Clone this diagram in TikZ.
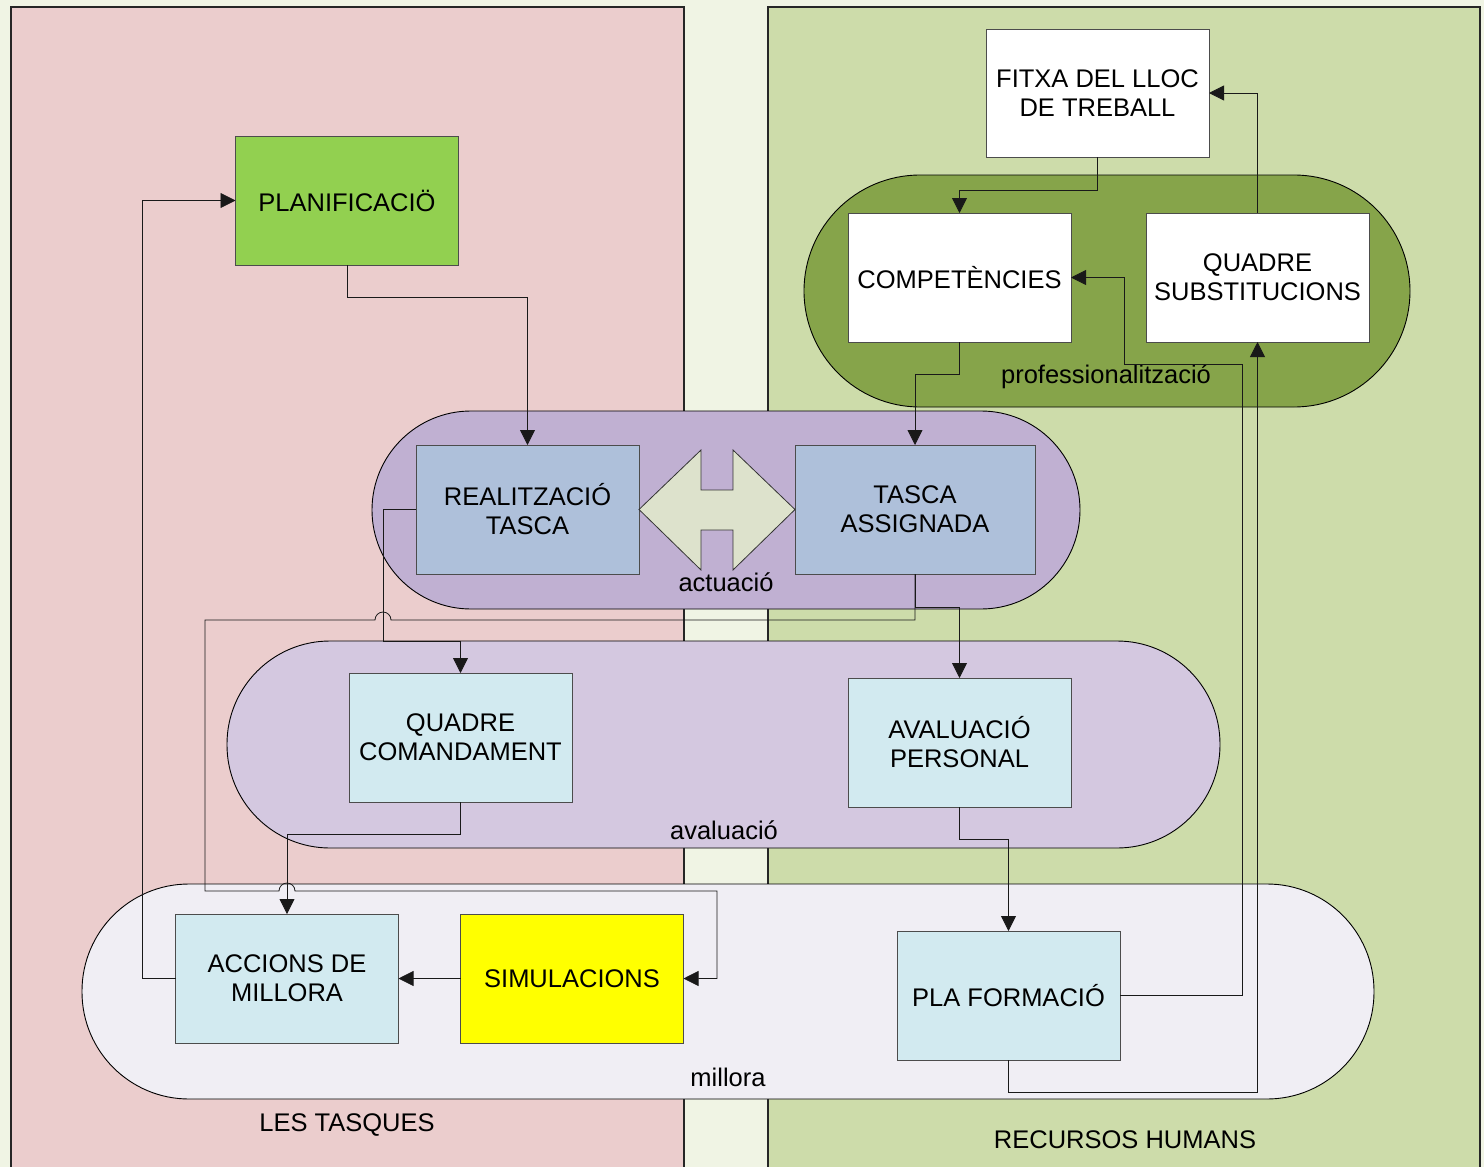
\documentclass[tikz,border=0pt]{standalone}
\usepackage{fontspec}
\setmainfont{Liberation Sans}
\usetikzlibrary{arrows.meta}

\definecolor{bgcream}{RGB}{240,244,228}
\definecolor{taskpink}{RGB}{235,205,205}
\definecolor{hrgreen}{RGB}{205,220,170}
\definecolor{profolive}{RGB}{134,164,74}
\definecolor{actlav}{RGB}{192,176,210}
\definecolor{avallav}{RGB}{212,200,224}
\definecolor{millwhite}{RGB}{240,238,244}
\definecolor{boxblue}{RGB}{174,192,218}
\definecolor{boxcyan}{RGB}{210,234,240}
\definecolor{planigreen}{RGB}{146,208,80}
\definecolor{simyellow}{RGB}{255,255,0}
\definecolor{arrowpale}{RGB}{221,226,204}

\begin{document}
\begin{tikzpicture}[x=1pt,y=-1pt,
  txt/.style={font=\fontsize{25.5}{29}\selectfont, align=center},
  box/.style={txt, draw=black!70, line width=0.8pt, minimum width=223pt,
    minimum height=129pt, inner sep=2pt, outer sep=0pt},
  panel/.style={draw=black!85, line width=1.6pt},
  stadium/.style={draw=black, line width=0.9pt, outer sep=0pt},
  conn/.style={draw=black!90, line width=0.8pt, -{Triangle[length=15pt,width=15pt]}}]

  % --- background and the two panels ---
  \useasboundingbox (0,0) rectangle (1484,1167);
  \clip (0,0) rectangle (1484,1167);
  \fill[bgcream] (0,0) rectangle (1484,1167);
  \draw[panel, fill=taskpink] (11,1180) -- (11,7) -- (684,7) -- (684,1180);
  \draw[panel, fill=hrgreen] (768,1180) -- (768,7) -- (1480,7) -- (1480,1180);

  % --- stadiums ---
  \node[stadium, fill=profolive, minimum width=606pt, minimum height=232pt,
    rounded corners=116pt] (prof) at (1107,291) {};
  \node[stadium, fill=actlav, minimum width=708pt, minimum height=198pt,
    rounded corners=99pt] (actu) at (726,510) {};
  \node[stadium, fill=avallav, minimum width=993pt, minimum height=207pt,
    rounded corners=103pt] (aval) at (723.5,744.5) {};
  \node[stadium, fill=millwhite, minimum width=1292pt, minimum height=215pt,
    rounded corners=107pt] (mill) at (728,991.5) {};

  % --- boxes ---
  \node[box, fill=white, minimum height=128pt] (fitxa) at (1097.5,93) {FITXA DEL LLOC\\DE TREBALL};
  \node[box, fill=white] (compet) at (959.5,277.5) {COMPETÈNCIES};
  \node[box, fill=white] (quadsub) at (1257.5,277.5) {QUADRE\\SUBSTITUCIONS};
  \node[box, fill=planigreen] (planif) at (347,200.5) {PLANIFICACIÖ};
  \node[box, fill=boxblue] (realitz) at (527.5,509.5) {REALITZACIÓ\\TASCA};
  \node[box, fill=boxblue, minimum width=240pt] (tasca) at (915,509.5) {TASCA\\ASSIGNADA};
  \node[box, fill=boxcyan] (quadcom) at (460.5,737.5) {QUADRE\\COMANDAMENT};
  \node[box, fill=boxcyan] (avalua) at (959.5,742.5) {AVALUACIÓ\\PERSONAL};
  \node[box, fill=boxcyan] (accions) at (287,978.5) {ACCIONS DE\\MILLORA};
  \node[box, fill=simyellow] (simul) at (572,978.5) {SIMULACIONS};
  \node[box, fill=boxcyan] (plafor) at (1008.5,995.5) {PLA FORMACIÓ};

  % --- double arrow between the two task boxes ---
  \draw[fill=arrowpale, draw=black!80, line width=0.8pt]
    (realitz.east) -- (701,450) -- (701,490) -- (733,490) -- (733,450)
    -- (tasca.west) -- (733,570) -- (733,530) -- (701,530) -- (701,570) -- cycle;

  % --- labels ---
  \node[txt] (lprof) at (1106,377) {professionalització};
  \node[txt] (lactu) at (726,582) {actuació};
  \node[txt] (laval) at (724,830) {avaluació};
  \node[txt] (lmill) at (728,1077) {millora};
  \node[txt] (ltasq) at (347,1125) {LES TASQUES};
  \node[txt] (lrrhh) at (1125,1140) {RECURSOS HUMANS};

  % --- connectors ---
  \draw[conn] (fitxa.south) -- ++(0,33) -| (compet.north);
  \draw[conn] (quadsub.north) |- (fitxa.east);
  \draw[conn] (planif.south) -- ++(0,32) -| (realitz.north);
  \draw[conn] (compet.south) -- ++(0,32) -| (tasca.north);
  \draw[conn] (plafor.east) -| (1242,364) -| ([xshift=53pt]compet.east) -- (compet.east);
  \draw[conn] (plafor.south) -- ++(0,32) -| (quadsub.south);
  \draw[conn] (realitz.west) -- ++(-33,0) |- ([yshift=32pt]quadcom.north) -- (quadcom.north);
  \draw[conn] (tasca.south) -- ++(0,46) -- (391,620) arc[start angle=0, end angle=180, radius=8pt]
    -- (205,620) -- (205,891) -- (279,891) arc[start angle=180, end angle=0, radius=8pt]
    -- (717,891) |- (simul.east);
  \draw[conn] (tasca.south) -- ++(0,33) -| (avalua.north);
  \draw[conn] (quadcom.south) -- ++(0,32) -| (accions.north);
  \draw[conn] (simul.west) -- (accions.east);
  \draw[conn] (accions.west) -- ++(-33,0) |- (planif.west);
  \draw[conn] (avalua.south) -- ++(0,32) -| (plafor.north);

\end{tikzpicture}
\end{document}
